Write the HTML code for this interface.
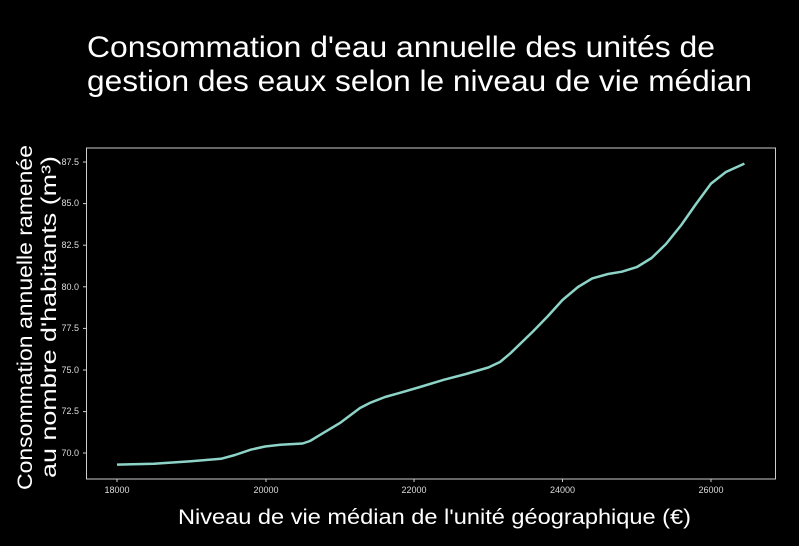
<!DOCTYPE html>
<html><head><meta charset="utf-8"><style>
body{margin:0;background:#000;width:799px;height:541px;overflow:hidden}
text{font-family:"Liberation Sans",sans-serif}
</style></head><body>
<svg width="799" height="541" viewBox="0 0 799 541">
<rect width="799" height="541" fill="#000"/>
<text x="87" y="57" font-size="30" fill="#fff" textLength="628" lengthAdjust="spacingAndGlyphs">Consommation d'eau annuelle des unités de</text>
<text x="87" y="91" font-size="30" fill="#fff" textLength="665" lengthAdjust="spacingAndGlyphs">gestion des eaux selon le niveau de vie médian</text>
<rect x="86.5" y="148" width="689" height="331" fill="none" stroke="#ccc" stroke-width="1"/>
<g font-size="9" fill="#ddd" text-anchor="end" stroke="none">
<text x="79" y="165">87.5</text><text x="79" y="206">85.0</text><text x="79" y="248">82.5</text>
<text x="79" y="290">80.0</text><text x="79" y="331">77.5</text><text x="79" y="373">75.0</text>
<text x="79" y="414">72.5</text><text x="79" y="456">70.0</text>
</g>
<g stroke="#ccc"><line x1="83" x2="86" y1="162" y2="162"/><line x1="83" x2="86" y1="203.6" y2="203.6"/><line x1="83" x2="86" y1="245.2" y2="245.2"/><line x1="83" x2="86" y1="286.8" y2="286.8"/><line x1="83" x2="86" y1="328.4" y2="328.4"/><line x1="83" x2="86" y1="370" y2="370"/><line x1="83" x2="86" y1="411.6" y2="411.6"/><line x1="83" x2="86" y1="453" y2="453"/>
<line x1="117" x2="117" y1="479" y2="482"/><line x1="266" x2="266" y1="479" y2="482"/><line x1="414" x2="414" y1="479" y2="482"/><line x1="562.5" x2="562.5" y1="479" y2="482"/><line x1="711" x2="711" y1="479" y2="482"/></g>
<g font-size="9" fill="#ddd" text-anchor="middle">
<text x="117" y="493">18000</text><text x="266" y="493">20000</text><text x="414" y="493">22000</text><text x="562.5" y="493">24000</text><text x="711" y="493">26000</text>
</g>
<polyline fill="none" stroke="#8dd3c7" stroke-width="2.5" stroke-linejoin="round" points="117,464.6 154,463.8 191,461.3 221,458.8 235,455 250.7,449.7 265,446.5 280.4,444.7 302.6,443.5 310,441 317.5,436.4 339.8,423.1 360,408 369.5,403.1 385,397 399.2,393.1 420,387 443.7,379.8 466,374 488.3,367.5 500,362 510.5,353.2 532.8,331.6 548,316 562.5,300 578,287 592.2,278.4 608,274 621.9,271.7 637,267 651.6,258 666,244 681.3,225 696,204 711,183.6 725.9,172 744.4,163.6"/>
<text x="178" y="524" font-size="21" fill="#fff" textLength="513" lengthAdjust="spacingAndGlyphs">Niveau de vie médian de l'unité géographique (€)</text>
<g transform="translate(32,490) rotate(-90)"><text x="0" y="0" font-size="21" fill="#fff" textLength="345" lengthAdjust="spacingAndGlyphs">Consommation annuelle ramenée</text></g>
<g transform="translate(56,478) rotate(-90)"><text x="0" y="0" font-size="21" fill="#fff" textLength="322" lengthAdjust="spacingAndGlyphs">au nombre d'habitants (m³)</text></g>
</svg>
</body></html>
